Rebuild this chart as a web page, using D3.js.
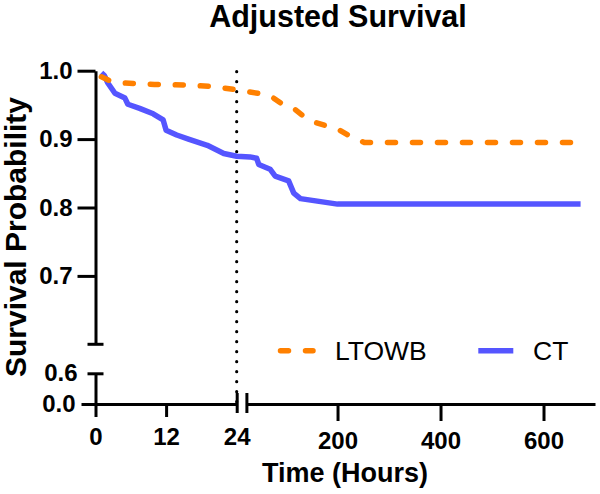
<!DOCTYPE html>
<html>
<head>
<meta charset="utf-8">
<script src="https://cdn.jsdelivr.net/npm/d3@7"></script>
<style>
  html, body { margin: 0; padding: 0; background: #fff; }
  svg { display: block; font-family: "Liberation Sans", Arial, sans-serif; }
</style>
</head>
<body>
<svg id="chart" width="600" height="494"></svg>
<script>
// ---- data ----
const seriesNames = ["LTOWB", "CT"];
const ltowbTime  = [1.0, 2.5, 4.7, 10, 15.5, 20, 24, 28, 45, 70, 95, 115, 135, 154, 180, 200, 225, 245, 252, 672];
const ltowbSurv  = [0.991, 0.985, 0.982, 0.980, 0.979, 0.977, 0.972, 0.969, 0.967, 0.963, 0.950, 0.945, 0.933, 0.925, 0.919, 0.915, 0.904, 0.8975, 0.895, 0.895];
const ctTime     = [1.0, 1.5, 2.1, 3.3, 5.0, 5.5, 7.5, 9.8, 11.5, 12.0, 13.8, 15.8, 19.0, 21.8, 24, 30, 43, 47, 69, 79, 105, 115, 128, 200, 672];
const ctSurv     = [0.997, 0.993, 0.982, 0.967, 0.960, 0.951, 0.945, 0.937, 0.928, 0.913, 0.906, 0.900, 0.891, 0.879, 0.875, 0.874, 0.872, 0.863, 0.856, 0.846, 0.839, 0.821, 0.813, 0.805, 0.805];
const xTicksLeft  = [0, 12, 24];
const xTicksRight = [200, 400, 600];
const yTicksUpper = [0.7, 0.8, 0.9, 1.0];
const yTicksLower = [0.0, 0.6];
const referenceTime = 24;

const svg = d3.select("#chart");
const orange = "#FF8000", blue = "#5555FF";

// ---- scales (broken axes) ----
const xLeft  = d3.scaleLinear().domain([0, 24]).range([95.5, 236.7]);
const xRight = d3.scaleLinear().domain([24, 700]).range([246.9, 595]);
const x = d3.scaleLinear().domain([0, 24, 24.001, 700]).range([95.5, 236.7, 246.9, 595]);
const yUpper = d3.scaleLinear().domain([0.6, 1.0]).range([344.3, 70.7]);
const yLower = d3.scaleLinear().domain([0, 0.6]).range([404, 373.3]);
const y = d3.scaleLinear().domain([0, 0.6, 0.6001, 1.0]).range([404, 373.3, 344.3, 70.7]);

// ---- title ----
svg.append("text").attr("x", 338).attr("y", 27).attr("text-anchor", "middle")
  .attr("font-size", 30.5).attr("font-weight", "bold").text("Adjusted Survival");

// ---- dotted reference line ----
svg.append("line")
  .attr("x1", x(referenceTime)).attr("x2", x(referenceTime))
  .attr("y1", 71.7).attr("y2", 402)
  .attr("stroke", "#000").attr("stroke-width", 3.2)
  .attr("stroke-linecap", "round").attr("stroke-dasharray", "0,10");

// ---- axes ----
function styleAxis(g) {
  g.selectAll("path.domain").attr("stroke", "#000").attr("stroke-width", 3);
  g.selectAll(".tick line").attr("stroke", "#000").attr("stroke-width", 3);
  g.selectAll(".tick text").attr("font-size", 24).attr("font-weight", "bold")
    .attr("font-family", "'Liberation Sans', Arial, sans-serif").attr("fill", "#000");
}

// y upper
const gyu = svg.append("g").attr("transform", "translate(95.5,0)")
  .call(d3.axisLeft(yUpper).tickValues(yTicksUpper).tickSize(18).tickSizeOuter(0).tickPadding(5).tickFormat(d3.format(".1f")));
styleAxis(gyu);
gyu.append("line").attr("x1", -8).attr("x2", 8).attr("y1", yUpper(0.6)).attr("y2", yUpper(0.6))
  .attr("stroke", "#000").attr("stroke-width", 3);

// y lower
const gyl = svg.append("g").attr("transform", "translate(95.5,0)")
  .call(d3.axisLeft(yLower).tickValues(yTicksLower).tickSize(14).tickSizeOuter(0).tickPadding(6).tickFormat(d3.format(".1f")));
styleAxis(gyl);
gyl.selectAll(".tick").filter(d => d === 0.6).select("line").attr("x1", 8).attr("x2", -8);
gyl.selectAll(".tick").filter(d => d === 0.6).select("text").attr("x", -18);

// x left
const gxl = svg.append("g").attr("transform", "translate(0,404)")
  .call(d3.axisBottom(xLeft).tickValues(xTicksLeft).tickSize(13).tickSizeOuter(0).tickPadding(7));
styleAxis(gxl);
gxl.selectAll(".tick text").attr("dy", null).attr("y", 41);
gxl.selectAll(".tick").filter(d => d === 24).select("line").attr("y1", -11).attr("y2", 9);

// x right
const gxr = svg.append("g").attr("transform", "translate(0,404)")
  .call(d3.axisBottom(xRight).tickValues(xTicksRight).tickSize(17).tickSizeOuter(0).tickPadding(7));
styleAxis(gxr);
gxr.selectAll(".tick text").attr("dy", null).attr("y", 45);
gxr.append("line").attr("x1", xRight(24)).attr("x2", xRight(24)).attr("y1", -11).attr("y2", 9)
  .attr("stroke", "#000").attr("stroke-width", 3);

// ---- axis titles ----
svg.append("text").attr("transform", "translate(26,237) rotate(-90)").attr("text-anchor", "middle")
  .attr("font-size", 30).attr("font-weight", "bold").text("Survival Probability");
svg.append("text").attr("x", 345).attr("y", 482).attr("text-anchor", "middle")
  .attr("font-size", 27).attr("font-weight", "bold").text("Time (Hours)");

// ---- curves ----
const line = d3.line().x(d => x(d[0])).y(d => y(d[1]));
const ctData = ctTime.map((t, i) => [t, ctSurv[i]]);
const ltData = ltowbTime.map((t, i) => [t, ltowbSurv[i]]);

svg.append("path").datum(ctData).attr("d", line)
  .attr("fill", "none").attr("stroke", blue).attr("stroke-width", 5.5)
  .attr("stroke-linejoin", "round");
svg.append("path").datum(ltData).attr("d", line)
  .attr("fill", "none").attr("stroke", orange).attr("stroke-width", 5.5)
  .attr("stroke-linecap", "round").attr("stroke-linejoin", "round")
  .attr("stroke-dasharray", "8,17");

// ---- legend ----
const legend = svg.append("g");
legend.append("line").attr("x1", 280.5).attr("x2", 313).attr("y1", 350.7).attr("y2", 350.7)
  .attr("stroke", orange).attr("stroke-width", 5.5).attr("stroke-linecap", "round").attr("stroke-dasharray", "8,17");
legend.append("text").attr("x", 335).attr("y", 359.5).attr("font-size", 26.5).text(seriesNames[0]);
legend.append("line").attr("x1", 478.3).attr("x2", 513.3).attr("y1", 350.7).attr("y2", 350.7)
  .attr("stroke", blue).attr("stroke-width", 5.5);
legend.append("text").attr("x", 533).attr("y", 359.5).attr("font-size", 26.5).text(seriesNames[1]);
</script>
</body>
</html>
